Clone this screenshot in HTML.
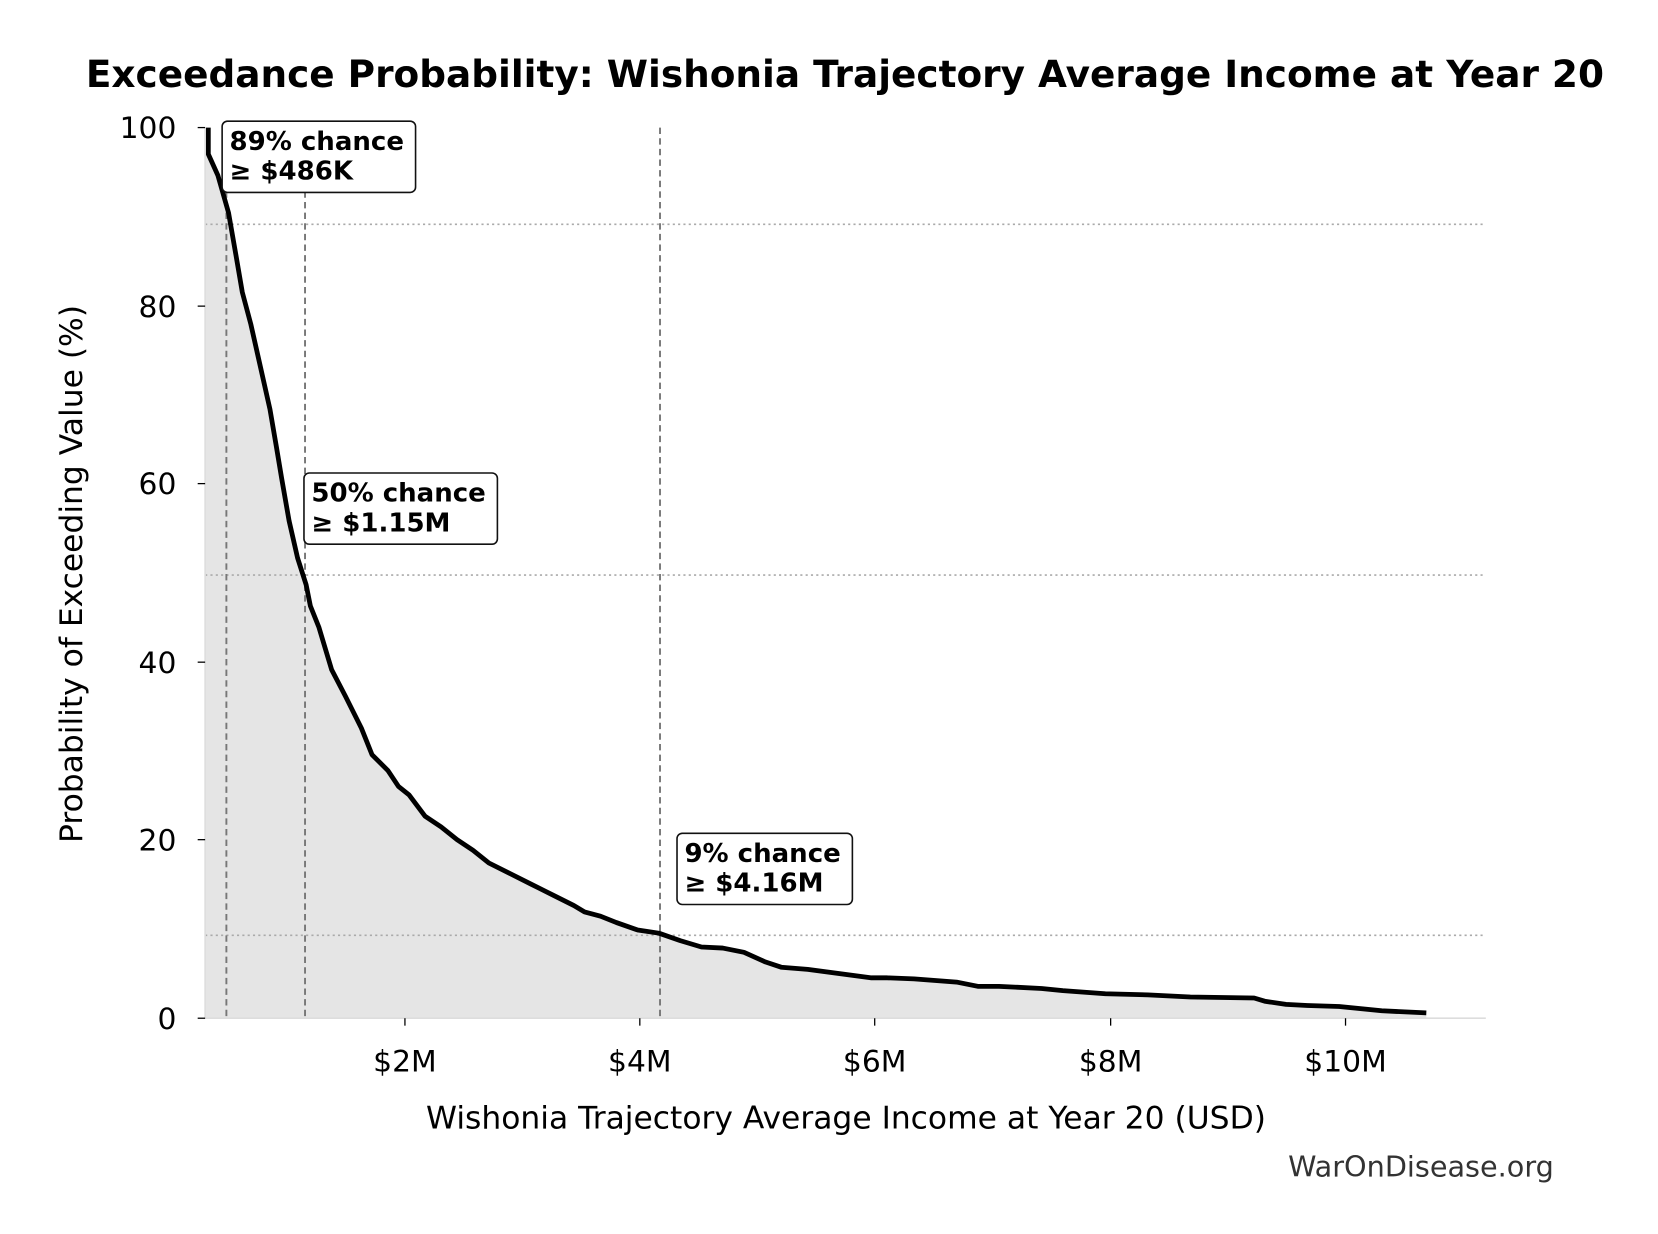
<!DOCTYPE html>
<html><head><meta charset="utf-8"><style>html,body{margin:0;padding:0;background:#fff}svg{display:block}</style></head>
<body>
<svg width="1658" height="1234" viewBox="0 0 1560 1161" xmlns="http://www.w3.org/2000/svg" font-family="'DejaVu Sans','Liberation Sans',sans-serif">
<rect width="1560" height="1161" fill="#fff"/>
<text x="795" y="82" text-anchor="middle" font-size="35.2" font-weight="bold">Exceedance Probability: Wishonia Trajectory Average Income at Year 20</text>
<path d="M196,120 L196,145 L205,165 L215,200 L222,240 L228,275 L236,305 L245,345 L254,385 L260,420 L265,450 L272,490 L280,525 L288,550 L292,570 L300,590 L312,630 L325,655 L340,685 L350,710 L365,725 L375,740 L385,748 L400,768 L415,778 L430,790 L445,800 L460,812 L480,822 L500,832 L520,842 L540,852 L550,858 L565,862 L580,868 L600,875 L620,878 L640,885 L660,891 L680,892 L700,896 L720,905 L735,910 L760,912 L790,916 L820,920 L835,920 L860,921 L900,924 L920,928 L940,928 L980,930 L1000,932 L1040,935 L1080,936 L1120,938 L1180,939 L1190,942 L1210,945 L1230,946 L1260,947 L1300,951 L1342,953 L1342,958 L193,958 L193,120 Z" fill="#e5e5e5"/>
<g stroke="#aaa" stroke-width="1.5" stroke-dasharray="2,3">
<line x1="193" y1="211" x2="1398" y2="211"/><line x1="193" y1="541" x2="1398" y2="541"/><line x1="193" y1="880" x2="1398" y2="880"/></g>
<g stroke="#777" stroke-width="1.8" stroke-dasharray="6,4">
<line x1="213" y1="120" x2="213" y2="958"/><line x1="287" y1="120" x2="287" y2="958"/><line x1="621" y1="120" x2="621" y2="958"/></g>
<path d="M196,120 L196,145 L205,165 L215,200 L222,240 L228,275 L236,305 L245,345 L254,385 L260,420 L265,450 L272,490 L280,525 L288,550 L292,570 L300,590 L312,630 L325,655 L340,685 L350,710 L365,725 L375,740 L385,748 L400,768 L415,778 L430,790 L445,800 L460,812 L480,822 L500,832 L520,842 L540,852 L550,858 L565,862 L580,868 L600,875 L620,878 L640,885 L660,891 L680,892 L700,896 L720,905 L735,910 L760,912 L790,916 L820,920 L835,920 L860,921 L900,924 L920,928 L940,928 L980,930 L1000,932 L1040,935 L1080,936 L1120,938 L1180,939 L1190,942 L1210,945 L1230,946 L1260,947 L1300,951 L1342,953" fill="none" stroke="#000" stroke-width="4.5" stroke-linejoin="round"/>
<line x1="193" y1="120" x2="193" y2="958" stroke="#ddd" stroke-width="1.5"/>
<line x1="193" y1="958" x2="1398" y2="958" stroke="#ddd" stroke-width="1.5"/>
<g stroke="#000" stroke-width="1.2">
<line x1="186" y1="120" x2="193" y2="120"/><line x1="186" y1="288" x2="193" y2="288"/><line x1="186" y1="455" x2="193" y2="455"/><line x1="186" y1="623" x2="193" y2="623"/><line x1="186" y1="790" x2="193" y2="790"/><line x1="186" y1="958" x2="193" y2="958"/>
<line x1="381" y1="958" x2="381" y2="965"/><line x1="602" y1="958" x2="602" y2="965"/><line x1="823" y1="958" x2="823" y2="965"/><line x1="1045" y1="958" x2="1045" y2="965"/><line x1="1266" y1="958" x2="1266" y2="965"/></g>
<g font-size="28" text-anchor="end">
<text x="166" y="130">100</text><text x="166" y="298">80</text><text x="166" y="465">60</text><text x="166" y="633">40</text><text x="166" y="800">20</text><text x="166" y="968">0</text></g>
<g font-size="28" text-anchor="middle">
<text x="381" y="1008">$2M</text><text x="602" y="1008">$4M</text><text x="823" y="1008">$6M</text><text x="1045" y="1008">$8M</text><text x="1266" y="1008">$10M</text></g>
<text x="796" y="1062" text-anchor="middle" font-size="29.5">Wishonia Trajectory Average Income at Year 20 (USD)</text>
<text transform="translate(77,540) rotate(-90)" text-anchor="middle" font-size="29.5">Probability of Exceeding Value (%)</text>
<text x="1462" y="1107" text-anchor="end" font-size="27" fill="#333">WarOnDisease.org</text>
<g font-size="24.5" font-weight="bold">
<rect x="209" y="114" width="182" height="67" rx="5" fill="#fff" stroke="#111" stroke-width="1.5"/>
<text x="216" y="141">89% chance</text><text x="216" y="169">≥ $486K</text>
<rect x="286" y="445" width="182" height="67" rx="5" fill="#fff" stroke="#111" stroke-width="1.5"/>
<text x="293" y="472">50% chance</text><text x="293" y="500">≥ $1.15M</text>
<rect x="637" y="784" width="165" height="67" rx="5" fill="#fff" stroke="#111" stroke-width="1.5"/>
<text x="644" y="811">9% chance</text><text x="644" y="839">≥ $4.16M</text>
</g>
</svg>
</body></html>
